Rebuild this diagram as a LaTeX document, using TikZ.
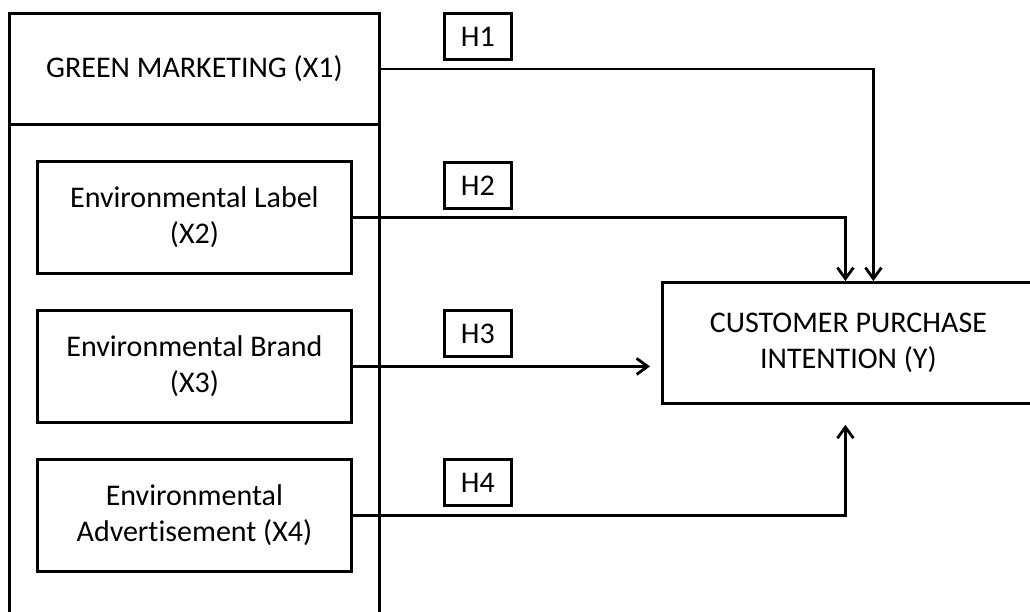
\documentclass[tikz,border=0pt]{standalone}
\usepackage{fontspec}
\setmainfont[Ligatures=NoCommon]{Carlito}
\usetikzlibrary{arrows.meta}
\tikzset{
  box/.style={draw, line width=2.8pt, inner sep=0pt, align=center,
    anchor=north west, font=\fontsize{30}{36}\selectfont},
  hbox/.style={box, minimum width=67pt, minimum height=46pt},
  varbox/.style={box, minimum width=314pt, minimum height=112pt},
  arr/.style={line width=2.8pt, -{Straight Barb[length=11pt,width=16pt,line width=2.8pt]}}
}
\begin{document}
\begin{tikzpicture}[x=1pt,y=-1pt]
\useasboundingbox (0,0) rectangle (1030,611);
% outer frame of the green marketing construct (runs past the lower edge)
\node[box, minimum width=370pt, minimum height=650pt] (frame) at (8,12) {};
\node[box, minimum width=370pt, minimum height=111pt] (gm) at (8,12) {GREEN MARKETING (X1)};
% dimensions
\node[varbox] (x2) at (36,160) {Environmental Label\\(X2)};
\node[varbox] (x3) at (36,309) {Environmental Brand\\(X3)};
\node[varbox] (x4) at (36,458) {Environmental\\Advertisement (X4)};
% dependent variable
\node[box, minimum width=372pt, minimum height=121pt] (y) at (661,281) {CUSTOMER PURCHASE\\INTENTION (Y)};
% hypothesis labels
\node[hbox] (h1) at (443,12) {H1};
\node[hbox] (h2) at (443,161) {H2};
\node[hbox] (h3) at (443,309) {H3};
\node[hbox] (h4) at (443,458) {H4};
% hypothesised paths
\draw[arr] (gm.east) -| ([xshift=25pt]y.north);
\draw[arr] (x2.east) -| ([xshift=-3pt]y.north);
\draw[arr, shorten >=11pt] (x3.east) -- (x3.east -| y.west);
\draw[arr, shorten >=20pt] (x4.east) -| ([xshift=-3pt]y.south);
\end{tikzpicture}
\end{document}
